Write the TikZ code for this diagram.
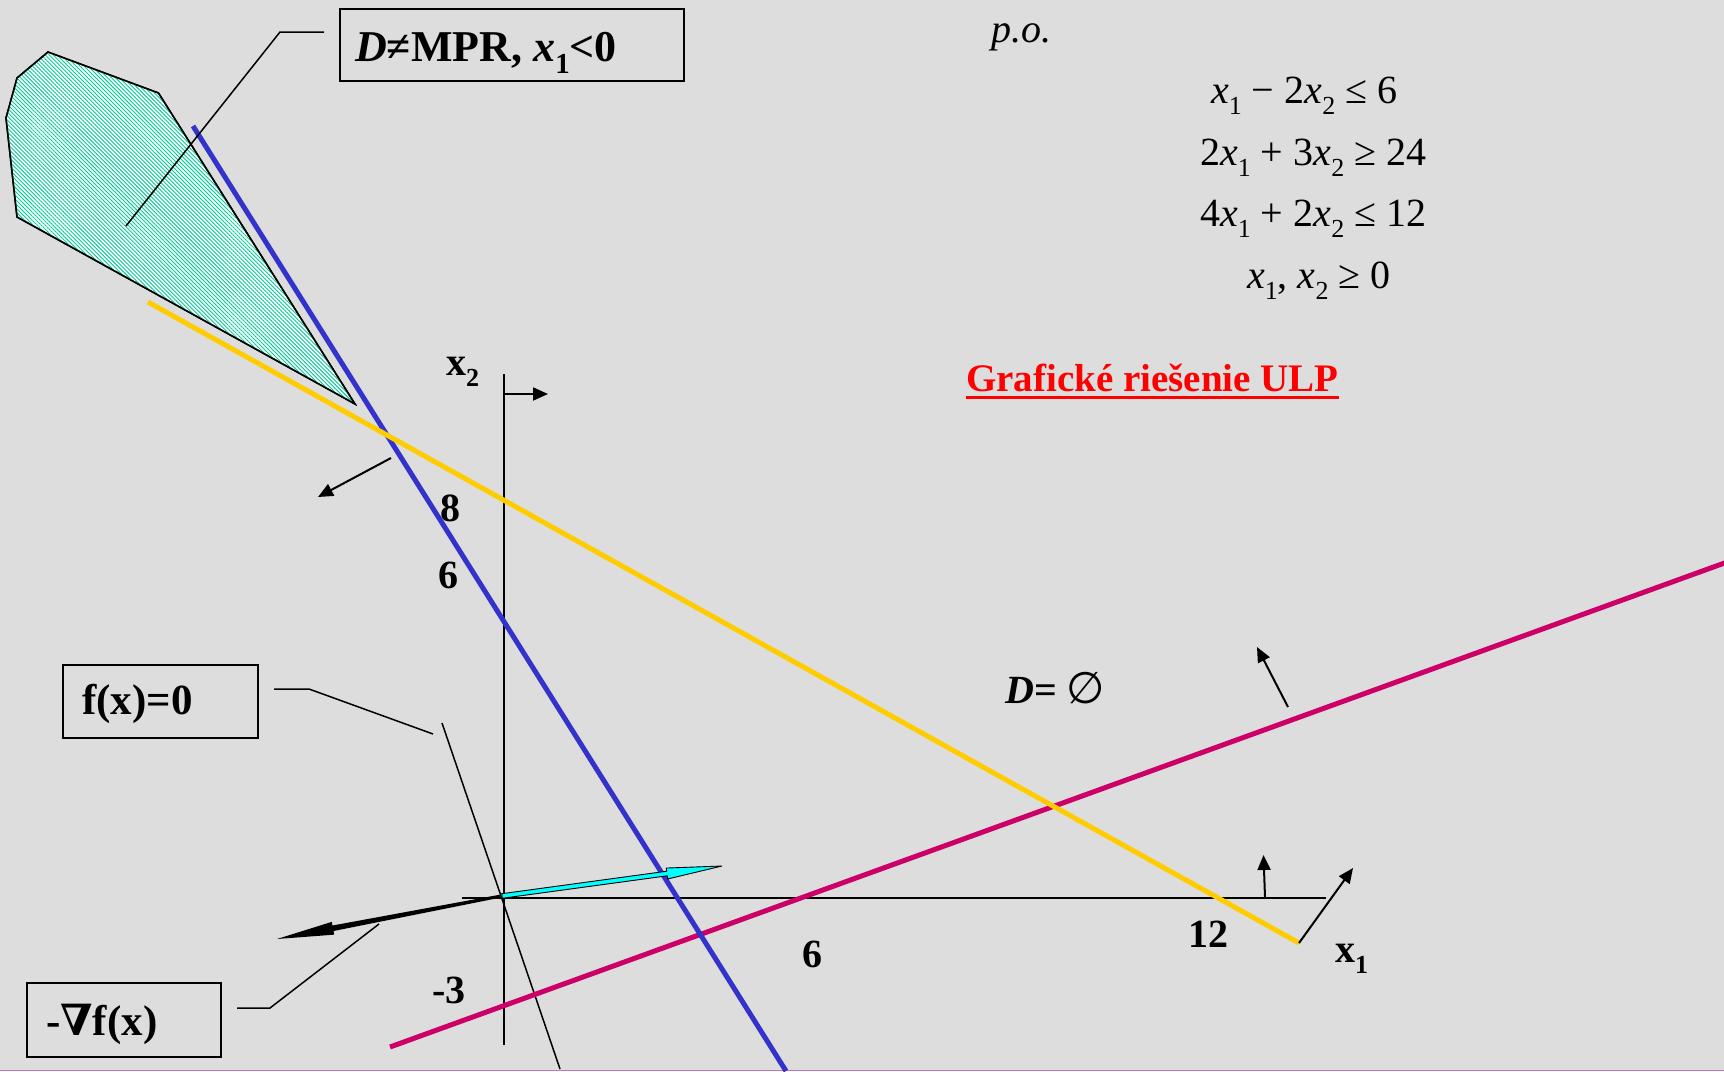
\documentclass[tikz,border=0pt]{standalone}
\usepackage{fontspec}
\setmainfont{Liberation Serif}
\newfontfamily\symfont{DejaVu Serif}
\newfontfamily\symsans{DejaVu Sans}
\usetikzlibrary{arrows.meta,calc,patterns.meta}
\definecolor{bg}{RGB}{221,221,221}
\definecolor{cblue}{RGB}{51,51,204}
\definecolor{cyel}{RGB}{255,204,0}
\definecolor{cmag}{RGB}{204,0,102}
\definecolor{chatch}{RGB}{0,204,150}
\definecolor{ccyan}{RGB}{0,255,255}
\definecolor{cbord}{RGB}{190,120,190}
\newcommand\lsub[1]{\raisebox{-0.28em}{\fontsize{26}{26}\selectfont #1}}
\newcommand\bsub[1]{\raisebox{-0.28em}{\fontsize{29}{29}\selectfont #1}}
\begin{document}
\begin{tikzpicture}[x=1pt,y=-1pt,
  cline/.style={line width=5pt},
  fine/.style={line width=1.5pt, black},
  lab/.style={inner sep=0pt, anchor=base west, font=\fontsize{40}{48}\selectfont\bfseries},
  blab/.style={inner sep=0pt, anchor=base west, font=\fontsize{43}{50}\selectfont\bfseries},
  eq/.style={inner sep=0pt, anchor=base west, font=\fontsize{40}{48}\selectfont},
  lbox/.style={draw, line width=2pt, inner sep=0pt},
  arr/.style={line width=2pt, -{Triangle[length=15pt,width=13pt]}}]
% background
\fill[bg] (0,0) rectangle (1724,1071);
\useasboundingbox (0,0) rectangle (1724,1071);
\draw[cbord, line width=1pt] (0,1070) -- (1724,1070);

% hatched region
\draw[line width=1.5pt, fill=white] (48,52) -- (17,78) -- (6,118) -- (17,217) -- (355,404) -- (158.5,93) -- cycle;
\fill[pattern={Lines[angle=-45,distance=2.8pt,line width=0.9pt]}, pattern color=chatch] (48,52) -- (17,78) -- (6,118) -- (17,217) -- (355,404) -- (158.5,93) -- cycle;
\draw[line width=1.5pt] (48,52) -- (17,78) -- (6,118) -- (17,217) -- (355,404) -- (158.5,93) -- cycle;

% axes
\coordinate (ytop) at (504,374);
\coordinate (ybot) at (504,1045);
\coordinate (xl) at (462,898);
\coordinate (xr) at (1326,898);
\draw[fine] (ytop) -- (ybot);
\draw[fine] (xl) -- (xr);

% objective level line f(x)=0
\coordinate (fa) at (442,723);
\coordinate (fb) at (560,1069);
\draw[fine] (fa) -- (fb);

% constraint lines
\coordinate (m1) at (390,1047);
\coordinate (m2) at (1730,561);
\coordinate (b1) at (193,126);
\coordinate (b2) at (786,1071);
\coordinate (y1) at (148,302);
\coordinate (y2) at (1299,943);
\draw[cline, cmag] (m1) -- (m2);
\draw[cline, cblue] (b1) -- (b2);
\draw[cline, cyel] (y1) -- (y2);

% direction arrows
\coordinate (a1s) at (503,394); \coordinate (a1e) at (548,394);
\coordinate (a2s) at (391,458); \coordinate (a2e) at (318,497);
\coordinate (a3s) at (1288,707); \coordinate (a3e) at (1257,647);
\coordinate (a4s) at (1265,897); \coordinate (a4e) at (1263.5,855);
\coordinate (a5e) at (1353,868);
\draw[arr] (a1s) -- (a1e);
\draw[arr] (a2s) -- (a2e);
\draw[arr] (a3s) -- (a3e);
\draw[arr] (a4s) -- (a4e);
\draw[arr] (y2) -- (a5e);

% gradient arrow (cyan)
\coordinate (co) at (502,896);
\coordinate (ct) at (722,866);
\coordinate (ch) at ($(co)!0.75!(ct)$);
\draw[fill=ccyan, line width=0.9pt, line join=miter]
  ($(co)!2.3pt!90:(ct)$) -- ($(ch)!2.3pt!90:(ct)$) -- ($(ch)!5.5pt!90:(ct)$) -- (ct)
  -- ($(ch)!5.5pt!-90:(ct)$) -- ($(ch)!2.3pt!-90:(ct)$) -- ($(co)!2.3pt!-90:(ct)$) -- cycle;

% minus gradient arrow (black)
\coordinate (bo) at (501,896);
\coordinate (bt) at (277,939);
\coordinate (bh) at ($(bo)!0.75!(bt)$);
\fill[black]
  ($(bo)!1.5pt!90:(bt)$) -- ($(bh)!2.8pt!90:(bt)$) -- ($(bh)!6.5pt!90:(bt)$) -- (bt)
  -- ($(bh)!6.5pt!-90:(bt)$) -- ($(bh)!2.8pt!-90:(bt)$) -- ($(bo)!1.5pt!-90:(bt)$) -- cycle;

% label boxes
\node[lbox, minimum width=344pt, minimum height=72pt] (mpr) at (512,45) {};
\node[blab, font=\fontsize{44}{50}\selectfont\bfseries] (mprt) at (355,61) {\textit{D}≠MPR, \textit{x}\bsub{1}<0};
\node[lbox, minimum width=195pt, minimum height=73pt] (fzero) at (160.5,701.5) {};
\node[blab] (fzerot) at (82,714) {f(x)=0};
\node[lbox, minimum width=194pt, minimum height=74pt] (grad) at (124,1020) {};
\node[blab] (gradt) at (46,1035) {-{\symfont\bfseries ∇}f(x)};

% leaders
\coordinate (l1a) at (324,32); \coordinate (l1b) at (280,32); \coordinate (l1c) at (126,226);
\draw[fine] (l1a) -- (l1b) -- (l1c);
\coordinate (l2a) at (274,689); \coordinate (l2b) at (309,689); \coordinate (l2c) at (433,734);
\draw[fine] (l2a) -- (l2b) -- (l2c);
\coordinate (l3a) at (237,1008); \coordinate (l3b) at (270,1008); \coordinate (l3c) at (379,924);
\draw[fine] (l3a) -- (l3b) -- (l3c);

% axis labels and numbers
\node[lab] (lx2) at (446,375) {x\lsub{2}};
\node[lab] (lx1) at (1335,962) {x\lsub{1}};
\node[lab] (n12) at (1188,947) {12};
\node[lab] (n6x) at (802,967) {6};
\node[lab] (nm3) at (432,1003) {-3};
\node[lab] (n8) at (440,521) {8};
\node[lab] (n6y) at (438,588) {6};
\node[lab] (dempty) at (1005,703) {\textit{D}= {\symsans\mdseries\fontsize{44}{50}\selectfont ∅}};

% problem statement
\node[eq] (po) at (991,42) {\textit{p.o.}};
\node[eq] (e1) at (1211,103) {\textit{x}\lsub{1} − 2\textit{x}\lsub{2} ≤ 6};
\node[eq] (e2) at (1200,165) {2\textit{x}\lsub{1} + 3\textit{x}\lsub{2} ≥ 24};
\node[eq] (e3) at (1200,226) {4\textit{x}\lsub{1} + 2\textit{x}\lsub{2} ≤ 12};
\node[eq] (e4) at (1247,288) {\textit{x}\lsub{1}, \textit{x}\lsub{2} ≥ 0};

% title
\node[lab, font=\fontsize{39}{46}\selectfont\bfseries, text=red] (title) at (966,391) {Grafické riešenie ULP};
\draw[red, line width=3pt] ($(title.base west)+(0,6)$) -- ($(title.base east)+(0,6)$);
\end{tikzpicture}
\end{document}
